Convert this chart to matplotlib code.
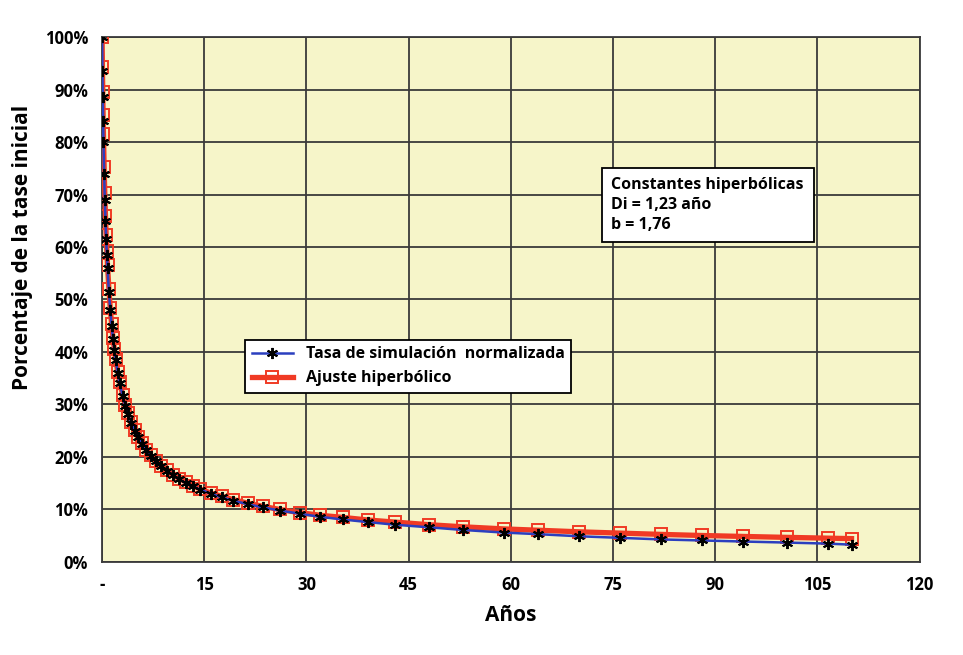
import numpy as np
import matplotlib
matplotlib.use("Agg")
import matplotlib.pyplot as plt
from matplotlib.ticker import FuncFormatter

plt.rcParams['font.family'] = ['Open Sans', 'DejaVu Sans']
plt.rcParams['font.weight'] = 'bold'

# ---------------------------------------------------------------
# Data (years, % of initial rate)
# ---------------------------------------------------------------
years = [0, 0.05, 0.1, 0.15, 0.2, 0.3, 0.4, 0.5, 0.6, 0.7, 0.8, 1.0, 1.2, 1.4,
         1.6, 1.8, 2.0, 2.3, 2.6, 3.0, 3.4, 3.8, 4.3, 4.8, 5.3, 5.9, 6.5, 7.2,
         7.9, 8.7, 9.5, 10.4, 11.3, 12.3, 13.3, 14.4, 16.0, 17.6, 19.2, 21.4,
         23.6, 26.1, 29.0, 32.0, 35.3, 39.0, 43.0, 48.0, 53.0, 59.0, 64.0,
         70.0, 76.0, 82.0, 88.0, 94.0, 100.5, 106.5, 110.0]

ajuste = [100, 94.3, 89.5, 85.2, 81.5, 75.3, 70.2, 65.9, 62.3, 59.2, 56.5,
          52.0, 48.3, 45.3, 42.7, 40.6, 38.7, 36.2, 34.2, 31.9, 29.9, 28.3,
          26.6, 25.1, 23.9, 22.6, 21.4, 20.3, 19.3, 18.3, 17.5, 16.6, 15.9,
          15.2, 14.5, 13.9, 13.1, 12.5, 11.9, 11.2, 10.6, 10.0, 9.4, 8.9,
          8.5, 8.0, 7.6, 7.1, 6.7, 6.3, 6.05, 5.75, 5.5, 5.26, 5.05, 4.87,
          4.69, 4.54, 4.45]

simulacion = [100, 93.5, 88.5, 84.0, 80.0, 74.0, 69.0, 65.0, 61.5, 58.5, 56.0,
              51.5, 48.0, 45.0, 42.5, 40.3, 38.4, 36.0, 34.0, 31.7, 29.8, 28.2,
              26.5, 25.0, 23.8, 22.5, 21.3, 20.2, 19.2, 18.2, 17.4, 16.5, 15.8,
              15.0, 14.4, 13.8, 13.0, 12.3, 11.7, 11.0, 10.4, 9.8, 9.2, 8.6,
              8.1, 7.6, 7.1, 6.6, 6.1, 5.6, 5.3, 4.9, 4.6, 4.3, 4.1, 3.9,
              3.7, 3.5, 3.3]

x_ticks = [0, 15, 30, 45, 60, 75, 90, 105, 120]
y_ticks = [0, 10, 20, 30, 40, 50, 60, 70, 80, 90, 100]

fig = plt.figure(figsize=(9.63, 6.55), dpi=100)
ax = fig.add_axes([0.106, 0.142, 0.849, 0.8015])
ax.set_facecolor("#f6f5c9")

ax.plot(years, simulacion, color="#2b3fbf", linewidth=1.8, marker=(6, 2, 0),
        markersize=8, markeredgecolor="black", markeredgewidth=1.4,
        label="Tasa de simulación  normalizada", zorder=4)
ax.plot(years, ajuste, color="#f03a24", linewidth=3.8, marker="s",
        markersize=9, markerfacecolor="none", markeredgecolor="#f03a24",
        markeredgewidth=1.4, label="Ajuste hiperbólico", zorder=3)

ax.set_xlim(0, 120)
ax.set_ylim(0, 100)
ax.set_xticks(x_ticks)
ax.set_yticks(y_ticks)
ax.xaxis.set_major_formatter(FuncFormatter(lambda v, p: "-" if v == 0 else f"{int(v)}"))
ax.yaxis.set_major_formatter(FuncFormatter(lambda v, p: f"{int(v)}%"))
ax.tick_params(labelsize=12, length=0, pad=10)
ax.grid(True, color="#3a3a3a", linewidth=1.3)
ax.set_axisbelow(True)
for s in ax.spines.values():
    s.set_color("#3a3a3a")
    s.set_linewidth(1.3)

ax.set_xlabel("Años", fontsize=15, fontweight="bold", labelpad=8)
ax.set_ylabel("Porcentaje de la tase inicial", fontsize=15, fontweight="bold")
ax.yaxis.set_label_coords(-0.085, 0.6)

leg = ax.legend(loc="upper left", bbox_to_anchor=(0.175, 0.423), fontsize=11.5,
                frameon=True, fancybox=False, edgecolor="black", framealpha=1,
                handlelength=2.6, borderpad=0.4, labelspacing=0.5, borderaxespad=0)
leg.get_frame().set_linewidth(1.3)

ax.text(0.623, 0.68, "Constantes hiperbólicas\nDi = 1,23 año\nb = 1,76",
        transform=ax.transAxes, fontsize=11.5, fontweight="bold", va="center",
        linespacing=1.3,
        bbox=dict(boxstyle="square,pad=0.6", facecolor="white", edgecolor="black",
                  linewidth=1.3))

fig.savefig("out.png", dpi=100)
